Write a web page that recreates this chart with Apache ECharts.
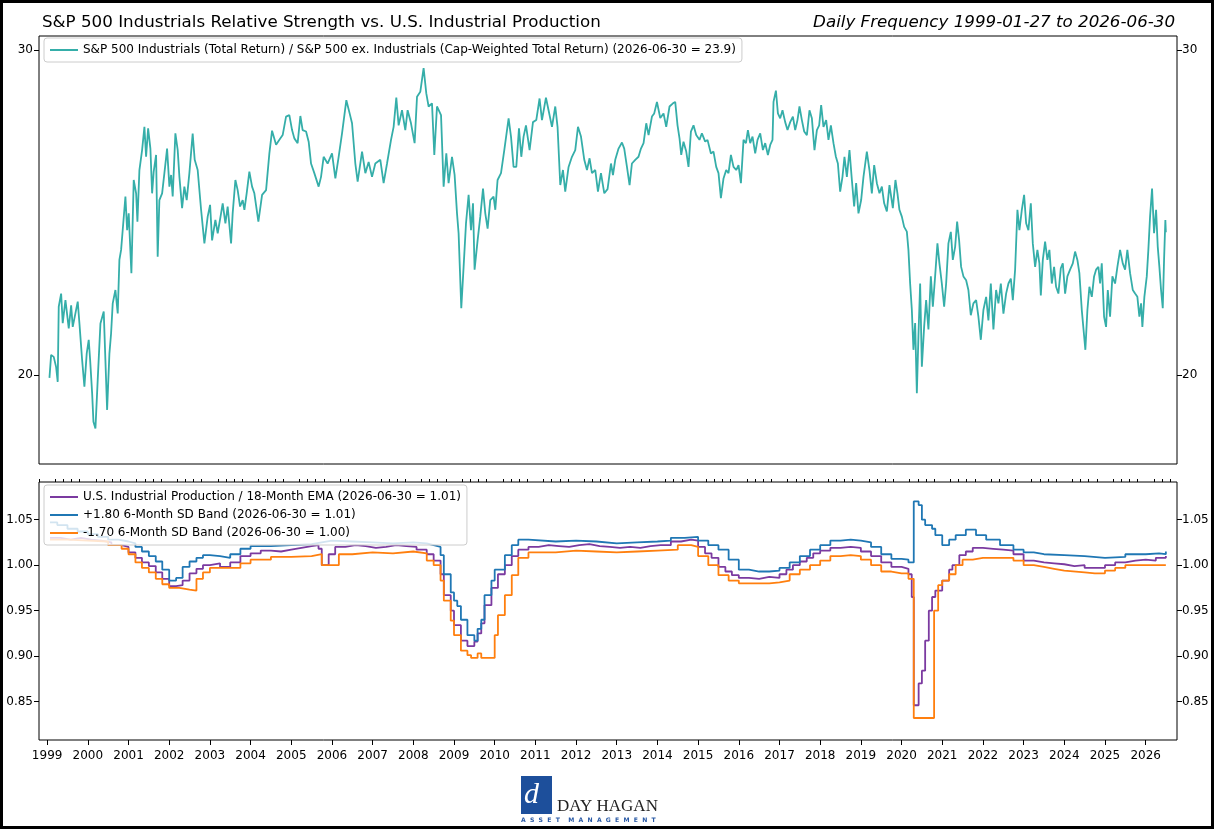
<!DOCTYPE html>
<html>
<head>
<meta charset="utf-8">
<title>S&amp;P 500 Industrials Relative Strength vs. U.S. Industrial Production</title>
<script src="https://cdn.jsdelivr.net/npm/echarts@6/dist/echarts.min.js"></script>
<style>
  html, body { margin: 0; padding: 0; background: #fff; }
  #chart { width: 1214px; height: 829px; }
</style>
</head>
<body>
<div id="chart"></div>
<script>
// ---- data (dates as decimal years) ----
const relYears = [
  1999.057,1999.098,1999.162,1999.221,1999.260,1999.285,1999.344,1999.383,1999.450,1999.531,1999.590,1999.629,1999.695,1999.752,1999.794,1999.860,1999.916,1999.973,
  2000.022,2000.057,2000.106,2000.138,2000.187,2000.243,2000.310,2000.391,2000.432,2000.474,2000.531,2000.572,2000.612,2000.678,2000.735,2000.776,2000.818,2000.857,2000.924,2000.966,
  2001.005,2001.071,2001.128,2001.187,2001.219,2001.268,2001.334,2001.391,2001.432,2001.482,2001.538,2001.580,2001.619,2001.678,2001.717,2001.759,2001.826,2001.882,2001.948,
  2002.005,2002.047,2002.086,2002.152,2002.209,2002.251,2002.317,2002.373,2002.430,2002.496,2002.577,2002.627,2002.700,2002.784,2002.865,2002.946,
  2003.005,2003.054,2003.135,2003.192,2003.275,2003.315,2003.381,2003.437,2003.521,2003.560,2003.627,2003.683,2003.742,2003.806,2003.848,2003.904,2003.970,
  2004.037,2004.093,2004.192,2004.283,2004.381,2004.462,2004.528,2004.627,2004.708,2004.789,2004.872,2004.953,
  2005.020,2005.076,2005.157,2005.224,2005.280,2005.364,2005.428,2005.486,2005.567,2005.673,2005.732,2005.796,2005.894,
  2006.002,2006.084,2006.165,2006.248,2006.354,2006.435,2006.494,2006.575,2006.632,2006.740,2006.821,2006.902,2006.985,
  2007.066,2007.189,2007.270,2007.354,2007.452,2007.516,2007.582,2007.639,2007.722,2007.803,2007.860,2007.943,
  2008.032,2008.091,2008.172,2008.253,2008.319,2008.376,2008.459,2008.516,2008.582,2008.681,2008.745,2008.811,2008.867,2008.951,
  2009.015,2009.074,2009.113,2009.179,2009.236,2009.295,2009.359,2009.418,2009.467,2009.506,2009.580,2009.646,2009.713,2009.769,2009.826,2009.892,2009.973,
  2010.015,2010.071,2010.155,2010.236,2010.342,2010.401,2010.464,2010.531,2010.597,2010.654,2010.710,2010.769,2010.858,2010.941,
  2011.022,2011.103,2011.162,2011.260,2011.324,2011.408,2011.489,2011.545,2011.612,2011.678,2011.734,2011.816,2011.899,2011.980,
  2012.047,2012.121,2012.202,2012.268,2012.332,2012.391,2012.472,2012.538,2012.612,2012.694,2012.774,2012.858,2012.907,2012.963,
  2013.044,2013.128,2013.184,2013.251,2013.315,2013.373,2013.454,2013.535,2013.595,2013.659,2013.725,2013.782,2013.865,2013.921,2013.988,
  2014.069,2014.150,2014.216,2014.297,2014.381,2014.437,2014.494,2014.543,2014.585,2014.641,2014.708,2014.764,2014.823,2014.887,2014.953,
  2015.034,2015.093,2015.174,2015.231,2015.314,2015.378,2015.445,2015.501,2015.560,2015.624,2015.690,2015.747,2015.806,2015.870,2015.936,2015.993,
  2016.052,2016.116,2016.175,2016.224,2016.280,2016.337,2016.403,2016.460,2016.526,2016.592,2016.649,2016.715,2016.772,2016.828,2016.853,2016.912,2016.961,
  2017.017,2017.074,2017.140,2017.197,2017.263,2017.329,2017.386,2017.442,2017.491,2017.550,2017.607,2017.673,2017.737,2017.796,2017.860,2017.919,2017.975,
  2018.024,2018.081,2018.147,2018.204,2018.263,2018.327,2018.386,2018.435,2018.491,2018.548,2018.597,2018.656,2018.720,2018.779,2018.835,2018.884,2018.941,
  2019.007,2019.064,2019.147,2019.211,2019.270,2019.327,2019.393,2019.457,2019.516,2019.573,2019.639,2019.703,2019.786,2019.850,2019.899,2019.948,
  2020.007,2020.064,2020.130,2020.169,2020.211,2020.253,2020.292,2020.334,2020.376,2020.415,2020.457,2020.499,2020.555,2020.604,2020.661,2020.720,2020.769,2020.825,2020.882,2020.931,2020.990,
  2021.047,2021.096,2021.152,2021.211,2021.260,2021.317,2021.366,2021.415,2021.464,2021.521,2021.587,2021.643,2021.702,2021.766,2021.833,2021.889,2021.948,
  2022.012,2022.079,2022.135,2022.194,2022.258,2022.324,2022.381,2022.440,2022.504,2022.570,2022.627,2022.686,2022.735,2022.791,2022.848,2022.897,2022.956,
  2023.012,2023.062,2023.118,2023.177,2023.226,2023.283,2023.339,2023.388,2023.423,2023.472,2023.528,2023.585,2023.634,2023.693,2023.749,2023.798,2023.855,2023.914,2023.963,
  2024.020,2024.076,2024.142,2024.209,2024.265,2024.322,2024.371,2024.430,2024.487,2024.518,2024.568,2024.617,2024.676,2024.732,2024.781,2024.838,2024.880,2024.921,2024.978,
  2025.027,2025.069,2025.125,2025.182,2025.248,2025.305,2025.371,2025.437,2025.494,2025.550,2025.617,2025.683,2025.740,2025.796,2025.845,2025.887,2025.919,2025.968,
  2026.027,2026.066,2026.108,2026.157,2026.206,2026.256,2026.297,2026.337,2026.378,2026.420,2026.452,2026.484,2026.496
];
const relValues = [
  19.93,20.51,20.46,20.20,19.83,21.78,22.14,21.34,21.96,21.20,21.82,21.24,21.60,21.92,21.33,20.38,19.71,20.55,
  20.90,20.38,19.55,18.87,18.71,19.88,21.33,21.65,20.38,19.15,20.55,21.07,21.87,22.24,21.60,23.09,23.38,23.96,24.99,23.96,
  24.47,22.71,25.51,25.09,24.22,25.83,26.48,27.26,26.26,27.21,26.53,25.09,25.78,26.32,23.18,24.88,25.09,25.73,26.53,
  25.30,25.67,24.99,27.04,26.48,25.61,24.63,25.30,24.88,25.73,27.03,26.16,25.83,24.58,23.57,24.37,
  24.73,23.66,24.27,23.87,24.47,24.78,24.17,24.68,23.57,24.47,25.51,25.19,24.68,24.88,24.58,25.09,25.78,
  25.30,25.09,24.22,25.04,25.19,26.37,27.13,26.66,26.82,26.98,27.61,27.66,
  27.15,26.87,26.71,27.63,27.15,27.10,26.76,26.04,25.73,25.30,25.61,26.26,26.04,
  26.37,25.56,26.26,27.04,28.18,27.72,27.38,26.04,25.46,26.43,25.73,26.09,25.61,
  26.04,26.16,25.41,26.04,26.82,27.26,28.27,27.31,27.83,27.15,27.83,27.38,
  26.71,28.30,28.48,29.33,28.42,27.96,28.07,26.32,27.96,27.66,25.30,26.37,25.41,26.26,
  25.67,24.47,23.87,21.74,22.89,24.17,25.04,23.96,24.78,22.81,23.66,24.37,25.24,24.47,24.01,24.88,24.99,
  24.58,25.51,25.73,26.48,27.55,26.93,25.93,25.93,27.21,26.26,26.93,27.31,26.48,27.42,
  27.49,28.24,27.49,28.27,27.83,27.26,27.96,27.26,25.35,25.83,25.14,25.93,26.26,26.48,
  27.26,26.93,26.16,25.83,26.21,25.73,25.83,25.14,25.73,25.09,25.22,26.04,25.67,26.16,
  26.53,26.73,26.53,25.93,25.35,26.04,26.16,26.26,26.53,26.71,27.38,26.98,27.61,27.72,28.12,
  27.56,27.72,27.26,27.96,28.07,28.12,27.31,26.87,26.32,26.76,26.43,25.93,27.10,27.31,26.98,
  26.82,27.04,26.76,26.82,26.37,26.43,25.93,25.73,24.94,25.56,25.83,25.73,26.32,25.93,25.83,25.99,
  25.41,26.82,26.71,27.15,26.71,26.93,26.37,26.82,27.04,26.48,26.71,26.32,26.65,26.82,28.12,28.52,27.72,
  27.55,27.83,27.42,27.15,27.42,27.61,27.15,27.49,27.96,27.49,27.10,26.98,27.83,27.55,26.48,27.15,27.31,
  28.01,27.26,27.49,26.82,27.31,26.71,26.26,26.04,25.14,25.61,26.26,25.61,26.48,25.51,24.68,25.41,24.47,
  24.88,25.61,26.43,25.83,25.09,25.99,25.41,25.09,25.30,24.78,24.53,25.35,24.63,25.51,25.09,24.58,
  24.37,24.06,23.92,23.38,22.42,21.69,20.64,21.34,19.55,21.00,22.42,20.21,21.24,21.96,21.17,22.62,21.78,22.62,23.57,22.99,22.42,
  21.78,22.42,23.57,23.91,23.09,23.47,24.22,23.66,22.89,22.62,22.51,22.24,21.55,21.87,21.96,21.51,20.90,
  21.69,22.05,21.41,22.42,21.17,22.24,21.87,22.42,21.59,22.14,22.42,22.56,21.96,22.81,24.58,23.96,24.58,
  25.04,24.17,23.96,24.78,23.57,22.89,23.38,22.99,22.09,23.09,23.62,23.09,23.38,22.42,22.89,22.33,22.14,22.85,22.99,
  22.14,22.62,22.81,22.99,23.33,23.09,22.71,21.69,21.00,20.64,21.69,22.33,22.05,22.62,22.81,22.89,22.42,22.99,21.51,
  21.24,22.24,21.51,22.62,22.42,22.89,23.38,22.99,22.81,23.38,22.71,22.24,22.14,22.05,21.51,21.87,21.24,22.05,
  22.62,23.38,24.37,25.24,23.87,24.58,23.47,22.89,22.24,21.74,23.09,24.27,23.9
];

// U.S. Industrial Production / 18-month EMA (monthly steps)
const ipYears = [
  1999.07,1999.33,1999.58,1999.83,2000.08,2000.33,2000.58,2000.83,2001.00,2001.17,2001.33,2001.50,2001.67,2001.83,
  2002.00,2002.17,2002.33,2002.50,2002.67,2002.83,2003.00,2003.25,2003.50,2003.75,2004.00,2004.25,2004.50,2004.75,
  2005.00,2005.25,2005.50,2005.67,2005.75,2005.92,2006.08,2006.33,2006.58,2006.83,2007.08,2007.33,2007.58,2007.83,
  2008.08,2008.33,2008.50,2008.67,2008.75,2008.92,2009.00,2009.17,2009.33,2009.50,2009.58,2009.67,2009.75,2009.92,
  2010.08,2010.25,2010.42,2010.58,2010.83,2011.08,2011.33,2011.58,2011.83,2012.08,2012.33,2012.58,2012.83,
  2013.08,2013.33,2013.58,2013.83,2014.08,2014.33,2014.58,2014.83,2015.00,2015.17,2015.33,2015.50,2015.67,2015.83,
  2016.00,2016.25,2016.50,2016.75,2017.00,2017.17,2017.33,2017.50,2017.67,2017.83,2018.00,2018.25,2018.50,2018.75,
  2019.00,2019.25,2019.50,2019.75,2020.00,2020.17,2020.25,2020.30,2020.42,2020.50,2020.58,2020.67,2020.75,2020.83,
  2021.00,2021.17,2021.25,2021.42,2021.58,2021.75,2022.00,2022.25,2022.50,2022.75,2023.00,2023.25,2023.50,2023.75,
  2024.00,2024.25,2024.50,2024.75,2025.00,2025.25,2025.50,2025.75,2026.00,2026.25,2026.496
];
const ipValues = [
  1.030,1.028,1.030,1.028,1.027,1.025,1.022,1.020,1.014,1.008,1.003,0.999,0.992,0.985,
  0.977,0.978,0.983,0.991,0.996,1.000,1.002,0.998,1.003,1.010,1.013,1.016,1.015,1.017,
  1.019,1.021,1.022,1.018,1.000,1.012,1.020,1.022,1.021,1.019,1.020,1.022,1.021,1.020,
  1.017,1.012,1.005,0.990,0.967,0.950,0.934,0.917,0.911,0.916,0.925,0.936,0.956,0.975,
  0.990,1.000,1.010,1.017,1.020,1.022,1.021,1.020,1.022,1.023,1.021,1.020,1.019,
  1.020,1.019,1.021,1.022,1.022,1.026,1.028,1.027,1.020,1.013,1.008,0.998,0.993,0.989,
  0.986,0.985,0.987,0.986,0.990,0.995,1.000,1.004,1.008,1.013,1.016,1.019,1.020,1.019,
  1.015,1.010,1.003,0.998,0.996,0.990,0.965,0.846,0.870,0.884,0.917,0.950,0.965,0.972,
  0.983,0.995,1.000,1.011,1.015,1.019,1.018,1.017,1.016,1.012,1.005,1.003,1.002,1.001,
  0.999,1.000,0.997,0.997,1.000,1.003,1.005,1.006,1.005,1.008,1.010
];

// +1.80 6-month SD band
const upperYears = [
  1999.07,1999.25,1999.50,1999.75,2000.00,2000.25,2000.50,2000.75,2001.00,2001.17,2001.33,2001.50,2001.67,2001.83,
  2002.00,2002.17,2002.33,2002.50,2002.67,2002.83,2003.00,2003.25,2003.50,2003.75,2004.00,2004.50,2005.00,2005.50,
  2005.75,2006.00,2006.50,2007.00,2007.50,2008.00,2008.33,2008.50,2008.67,2008.75,2008.92,2009.00,2009.08,2009.17,
  2009.33,2009.50,2009.58,2009.67,2009.75,2009.92,2010.00,2010.25,2010.42,2010.58,2010.83,2011.50,2012.00,2012.50,
  2013.00,2013.50,2014.00,2014.33,2014.67,2015.00,2015.25,2015.50,2015.75,2016.00,2016.25,2016.50,2016.75,2017.00,
  2017.25,2017.50,2017.75,2018.00,2018.25,2018.50,2018.75,2019.00,2019.25,2019.50,2019.75,2020.00,2020.17,2020.30,
  2020.42,2020.50,2020.58,2020.75,2020.83,2021.00,2021.17,2021.33,2021.58,2021.83,2022.08,2022.42,2022.75,2023.00,
  2023.25,2023.50,2024.00,2024.50,2025.00,2025.50,2026.00,2026.33,2026.496
];
const upperValues = [
  1.047,1.044,1.040,1.037,1.034,1.031,1.028,1.026,1.024,1.020,1.015,1.010,1.004,0.995,
  0.983,0.986,0.998,1.004,1.008,1.011,1.010,1.008,1.012,1.018,1.021,1.022,1.023,1.025,
  1.027,1.026,1.025,1.024,1.025,1.024,1.022,1.020,1.011,0.990,0.970,0.961,0.955,0.940,
  0.923,0.917,0.930,0.940,0.967,0.983,0.995,1.011,1.022,1.028,1.026,1.027,1.026,1.024,
  1.025,1.026,1.027,1.030,1.031,1.027,1.022,1.017,1.006,0.995,0.993,0.993,0.994,0.997,
  1.003,1.010,1.017,1.022,1.027,1.028,1.027,1.025,1.020,1.012,1.007,1.006,1.003,1.070,
  1.066,1.050,1.044,1.040,1.033,1.022,1.028,1.033,1.039,1.033,1.028,1.022,1.017,1.014,
  1.012,1.011,1.010,1.008,1.009,1.012,1.013,1.012,1.015
];

// -1.70 6-month SD band
const lowerYears = [
  1999.07,1999.50,2000.00,2000.50,2000.83,2001.00,2001.17,2001.33,2001.50,2001.67,2001.83,2002.00,2002.25,2002.50,
  2002.67,2002.83,2003.00,2003.50,2003.75,2004.00,2004.50,2005.00,2005.50,2005.75,2006.00,2006.17,2006.50,2007.00,
  2007.50,2008.00,2008.33,2008.50,2008.67,2008.75,2008.92,2009.00,2009.17,2009.33,2009.42,2009.58,2009.67,2009.92,
  2010.00,2010.08,2010.25,2010.42,2010.58,2010.83,2011.50,2012.00,2012.50,2013.00,2013.50,2014.00,2014.50,2014.83,
  2015.00,2015.25,2015.50,2015.75,2016.00,2016.50,2016.75,2017.00,2017.25,2017.50,2017.75,2018.00,2018.25,2018.50,
  2018.75,2019.00,2019.25,2019.50,2019.75,2020.00,2020.17,2020.30,2020.80,2020.90,2021.00,2021.17,2021.33,2021.50,
  2021.75,2022.00,2022.50,2022.75,2023.00,2023.25,2023.50,2023.75,2024.00,2024.50,2024.75,2025.00,2025.25,2025.50,
  2026.00,2026.496
];
const lowerValues = [
  1.028,1.027,1.026,1.022,1.018,1.012,1.003,0.997,0.992,0.985,0.979,0.975,0.973,0.972,
  0.985,0.992,0.997,0.997,1.002,1.006,1.009,1.010,1.012,1.000,1.000,1.012,1.014,1.013,
  1.015,1.013,1.005,1.000,0.983,0.961,0.939,0.923,0.906,0.901,0.898,0.903,0.898,0.898,
  0.923,0.945,0.967,0.989,1.008,1.014,1.016,1.015,1.014,1.015,1.016,1.017,1.022,1.020,
  1.010,1.000,0.989,0.983,0.980,0.980,0.981,0.983,0.990,0.995,1.000,1.005,1.010,1.011,
  1.010,1.006,1.000,0.993,0.991,0.991,0.985,0.832,0.950,0.978,0.983,0.990,1.000,1.006,
  1.008,1.008,1.008,1.005,1.000,0.998,0.996,0.994,0.992,0.991,0.991,0.994,0.997,1.000,
  1.000,1.000
];

// axis ticks / labels
const yearTicks = [1999,2000,2001,2002,2003,2004,2005,2006,2007,2008,2009,2010,2011,2012,2013,2014,2015,2016,2017,2018,2019,2020,2021,2022,2023,2024,2025,2026];
const minorSteps = [0.2, 0.4, 0.6, 0.8];
const topTicks = [20, 30];
const bottomTicks = [0.85, 0.90, 0.95, 1.00, 1.05];

const relName = 'S&P 500 Industrials (Total Return) / S&P 500 ex. Industrials (Cap-Weighted Total Return) (2026-06-30 = 23.9)';
const ipName = 'U.S. Industrial Production / 18-Month EMA (2026-06-30 = 1.01)';
const upName = '+1.80 6-Month SD Band (2026-06-30 = 1.01)';
const loName = '-1.70 6-Month SD Band (2026-06-30 = 1.00)';

// ---- chart ----
const FONT = 'DejaVu Sans';
const X_MIN = 1998.8, X_MAX = 2026.77;
const TOP_MIN = 17.9, TOP_MAX = 30.53;      // log scale
const BOT_MIN = 0.8078, BOT_MAX = 1.0914;

const minorTicks = [1998.8];
yearTicks.forEach(y => minorSteps.forEach(s => {
  if (y + s < X_MAX) minorTicks.push(+(y + s).toFixed(1));
}));

const pairs = (xs, ys, f) => xs.map((x, i) => [x, f ? f(ys[i]) : ys[i]]);

const labelStyle = { fontFamily: FONT, fontSize: 12, color: '#000' };
const tickStyle = { color: '#000', width: 1 };

function yAxisFor(grid, pos, min, max, ticks, fmt) {
  return {
    type: 'value', gridIndex: grid, position: pos, min: min, max: max,
    axisLine: { show: false },
    axisTick: { show: true, length: 5, customValues: ticks, lineStyle: tickStyle },
    axisLabel: Object.assign({ customValues: ticks, margin: pos === 'left' ? 6 : 5, formatter: fmt }, labelStyle),
    splitLine: { show: false }
  };
}

const legendBase = {
  orient: 'vertical', icon: 'rect', itemWidth: 28, itemHeight: 2, itemGap: 4,
  padding: [5, 6, 5, 6],
  backgroundColor: 'rgba(255,255,255,0.8)', borderColor: '#cccccc', borderWidth: 1, borderRadius: 3,
  textStyle: { fontFamily: FONT, fontSize: 12, color: '#000', lineHeight: 14 },
  selectedMode: false
};

const chart = echarts.init(document.getElementById('chart'));
chart.setOption({
  animation: false,
  backgroundColor: '#fff',
  title: [
    { text: 'S&P 500 Industrials Relative Strength vs. U.S. Industrial Production', left: 37, top: 9,
      textStyle: { fontFamily: FONT, fontSize: 16.7, fontWeight: 'normal', color: '#000' } },
    { text: 'Daily Frequency 1999-01-27 to 2026-06-30', right: 34, top: 9,
      textStyle: { fontFamily: FONT, fontSize: 16.7, fontWeight: 'normal', fontStyle: 'italic', color: '#000' } }
  ],
  grid: [
    { left: 39, right: 37, top: 36, height: 428, show: true, borderColor: '#000', borderWidth: 1, backgroundColor: 'transparent' },
    { left: 39, right: 37, top: 482, height: 258, show: true, borderColor: '#000', borderWidth: 1, backgroundColor: 'transparent' }
  ],
  xAxis: [
    { type: 'value', gridIndex: 0, min: X_MIN, max: X_MAX, axisLine: { show: false }, axisTick: { show: false },
      axisLabel: { show: false }, splitLine: { show: false } },
    { type: 'value', gridIndex: 1, min: X_MIN, max: X_MAX, axisLine: { show: false },
      axisTick: { show: true, length: 5, customValues: yearTicks, lineStyle: tickStyle },
      axisLabel: Object.assign({ customValues: yearTicks, margin: 10, formatter: v => String(Math.round(v)) }, labelStyle),
      splitLine: { show: false } },
    { type: 'value', gridIndex: 1, min: X_MIN, max: X_MAX, axisLine: { show: false },
      axisTick: { show: true, length: 3, customValues: minorTicks, lineStyle: tickStyle },
      axisLabel: { show: false }, splitLine: { show: false } }
  ],
  yAxis: [
    yAxisFor(0, 'left', Math.log10(TOP_MIN), Math.log10(TOP_MAX), topTicks.map(Math.log10), v => String(Math.round(Math.pow(10, v)))),
    yAxisFor(0, 'right', Math.log10(TOP_MIN), Math.log10(TOP_MAX), topTicks.map(Math.log10), v => String(Math.round(Math.pow(10, v)))),
    yAxisFor(1, 'left', BOT_MIN, BOT_MAX, bottomTicks, v => v.toFixed(2)),
    yAxisFor(1, 'right', BOT_MIN, BOT_MAX, bottomTicks, v => v.toFixed(2))
  ],
  legend: [
    Object.assign({}, legendBase, { left: 44, top: 38, data: [relName] }),
    Object.assign({}, legendBase, { left: 44, top: 485, data: [ipName, upName, loName] })
  ],
  series: [
    { name: relName, type: 'line', xAxisIndex: 0, yAxisIndex: 0, symbol: 'none',
      lineStyle: { color: '#35aea9', width: 1.8 }, itemStyle: { color: '#35aea9' },
      data: pairs(relYears, relValues, Math.log10) },
    { name: ipName, type: 'line', xAxisIndex: 1, yAxisIndex: 2, symbol: 'none', step: 'end',
      lineStyle: { color: '#7b3aa0', width: 1.8 }, itemStyle: { color: '#7b3aa0' },
      data: pairs(ipYears, ipValues) },
    { name: upName, type: 'line', xAxisIndex: 1, yAxisIndex: 2, symbol: 'none', step: 'end',
      lineStyle: { color: '#1f77b4', width: 1.8 }, itemStyle: { color: '#1f77b4' },
      data: pairs(upperYears, upperValues) },
    { name: loName, type: 'line', xAxisIndex: 1, yAxisIndex: 2, symbol: 'none', step: 'end',
      lineStyle: { color: '#ff7f0e', width: 1.8 }, itemStyle: { color: '#ff7f0e' },
      data: pairs(lowerYears, lowerValues) }
  ],
  graphic: [
    { type: 'rect', silent: true, shape: { x: 1.5, y: 1.5, width: 1211, height: 826 },
      style: { fill: 'none', stroke: '#000', lineWidth: 3 } },
    // logo
    { type: 'rect', silent: true, shape: { x: 521, y: 776, width: 31, height: 38 }, style: { fill: '#1d4f9b' } },
    { type: 'text', silent: true, left: 524, top: 780,
      style: { text: 'd', fill: '#fff', font: 'italic 30px "Liberation Serif"' } },
    { type: 'text', silent: true, left: 557, top: 798,
      style: { text: 'DAY HAGAN', fill: '#222', font: '17px "Liberation Serif"' } },
    { type: 'text', silent: true, left: 521, top: 817,
      style: { text: 'A  S  S  E  T    M  A  N  A  G  E  M  E  N  T', fill: '#2a5aa6', font: 'bold 6.1px "DejaVu Sans"' } }
  ]
});
</script>
</body>
</html>
